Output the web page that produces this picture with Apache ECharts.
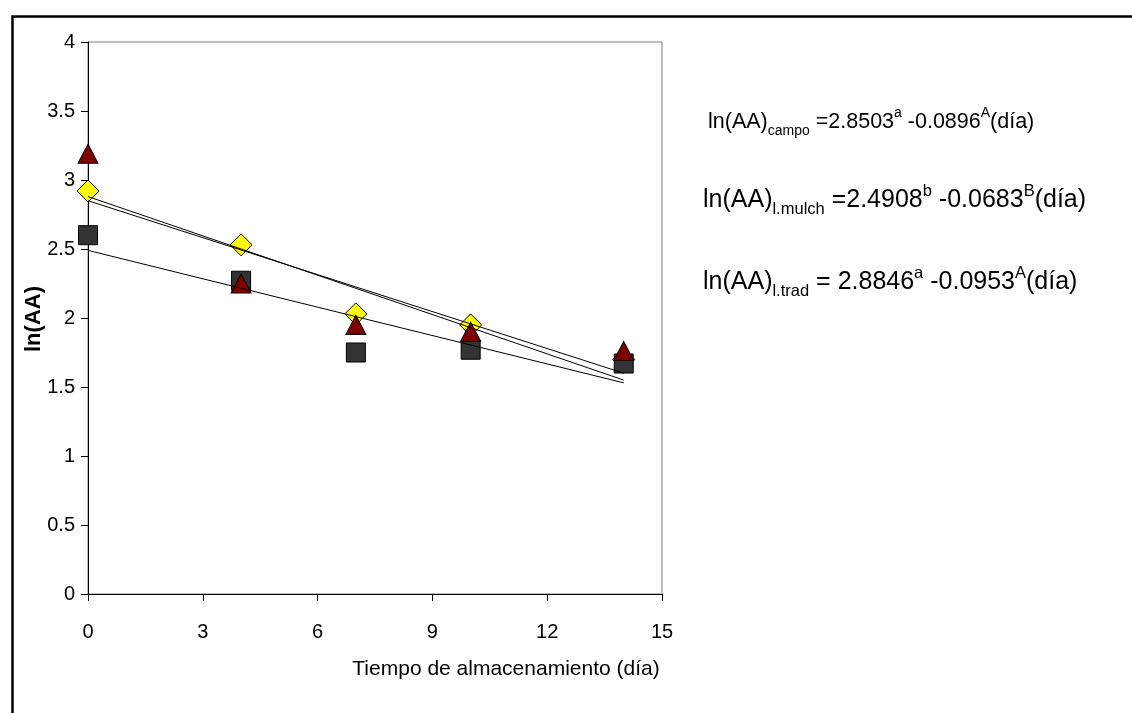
<!DOCTYPE html>
<html>
<head>
<meta charset="utf-8">
<script src="https://cdn.jsdelivr.net/npm/echarts@6/dist/echarts.min.js"></script>
<style>html,body{margin:0;padding:0;background:#fff}#c{width:1132px;height:713px}</style>
</head>
<body>
<div id="c"></div>
<script>
// Storage days
const days = [0, 4, 7, 10, 14];
const campo = [2.92, 2.53, 2.03, 1.95, 1.70];   // yellow diamonds
const mulch = [2.60, 2.27, 1.75, 1.77, 1.67];   // dark squares
const trad  = [3.19, 2.25, 1.95, 1.90, 1.76];   // red triangles
// Fitted trend line endpoints (day 0 and day 14)
const lineDays = [0, 14];
const campoFit = [2.85, 1.60];
const mulchFit = [2.49, 1.53];
const tradFit  = [2.88, 1.55];
// Axis ticks
const xTicks = [0, 3, 6, 9, 12, 15];
const yTicks = [0, 0.5, 1, 1.5, 2, 2.5, 3, 3.5, 4];

const F = 'Liberation Sans, Arial, sans-serif';
const pair = (xs, ys) => xs.map((x, i) => [x, ys[i]]);

const chart = echarts.init(document.getElementById('c'), null, {renderer: 'canvas'});

function fitLine(vals) {
  return {
    type: 'line', data: pair(lineDays, vals), symbol: 'none', z: 5,
    lineStyle: {color: '#000', width: 1}, silent: true, animation: false
  };
}

function richStyles(sz, subSz) {
  return {
    m: {fontSize: sz, fontFamily: F, color: '#000', lineHeight: sz + 10},
    s: {fontSize: subSz, fontFamily: F, color: '#000', lineHeight: subSz + 4, verticalAlign: 'bottom'},
    p: {fontSize: subSz, fontFamily: F, color: '#000', lineHeight: subSz + 8, verticalAlign: 'top'}
  };
}

const option = {
  backgroundColor: '#fff',
  animation: false,
  grid: {left: 88, top: 42, right: 470, bottom: 119, show: true, borderColor: '#808080', borderWidth: 1, backgroundColor: 'transparent'},
  xAxis: {
    type: 'value', min: 0, max: 15, interval: 3,
    axisLine: {show: true, onZero: false, lineStyle: {color: '#000', width: 1}},
    axisTick: {show: true, inside: false, length: 7, lineStyle: {color: '#000'}},
    axisLabel: {fontSize: 20, fontFamily: F, color: '#000', margin: 28,
      formatter: v => xTicks.includes(v) ? String(v) : ''},
    splitLine: {show: false}
  },
  yAxis: {
    type: 'value', min: 0, max: 4, interval: 0.5,
    axisLine: {show: true, onZero: false, lineStyle: {color: '#000', width: 1}},
    axisTick: {show: true, inside: false, length: 7, lineStyle: {color: '#000'}},
    axisLabel: {fontSize: 20, fontFamily: F, color: '#000', margin: 13,
      formatter: v => yTicks.includes(v) ? String(v) : ''},
    splitLine: {show: false}
  },
  series: [
    {type: 'scatter', name: 'campo', data: pair(days, campo), symbol: 'diamond', symbolSize: [22, 22], z: 2,
      itemStyle: {color: '#FFFF00', borderColor: '#000', borderWidth: 1, opacity: 1}},
    {type: 'scatter', name: 'mulch', data: pair(days, mulch), symbol: 'rect', symbolSize: [19, 19], z: 3,
      itemStyle: {color: '#333333', borderColor: '#000', borderWidth: 1, opacity: 1}},
    {type: 'scatter', name: 'trad', data: pair(days, trad), symbol: 'triangle', symbolSize: [20, 19], z: 4,
      itemStyle: {color: '#800000', borderColor: '#000', borderWidth: 1, opacity: 1}},
    fitLine(campoFit),
    fitLine(mulchFit),
    fitLine(tradFit)
  ],
  graphic: [
    {type: 'rect', left: 10, top: 14, shape: {width: 1140, height: 720}, z: -10,
      style: {fill: 'none', stroke: '#000', lineWidth: 2.5}},
    {type: 'text', x: 34, y: 319, rotation: Math.PI / 2, z: 10,
      style: {text: 'ln(AA)', fontSize: 22, fontWeight: 'bold', fontFamily: F, fill: '#000', align: 'center', verticalAlign: 'middle'}},
    {type: 'text', x: 506, y: 669, z: 10,
      style: {text: 'Tiempo de almacenamiento (día)', fontSize: 21, fontFamily: F, fill: '#000', align: 'center', verticalAlign: 'middle'}},
    {type: 'text', x: 708, y: 122, z: 10,
      style: {text: '{m|ln(AA)}{s|campo}{m| =2.8503}{p|a}{m| -0.0896}{p|A}{m|(día)}', verticalAlign: 'middle', rich: richStyles(21.5, 14)}},
    {type: 'text', x: 703, y: 200, z: 10,
      style: {text: '{m|ln(AA)}{s|l.mulch}{m| =2.4908}{p|b}{m| -0.0683}{p|B}{m|(día)}', verticalAlign: 'middle', rich: richStyles(25, 16.5)}},
    {type: 'text', x: 703, y: 282, z: 10,
      style: {text: '{m|ln(AA)}{s|l.trad}{m| = 2.8846}{p|a}{m| -0.0953}{p|A}{m|(día)}', verticalAlign: 'middle', rich: richStyles(25, 16.5)}}
  ]
};
chart.setOption(option);
</script>
</body>
</html>
